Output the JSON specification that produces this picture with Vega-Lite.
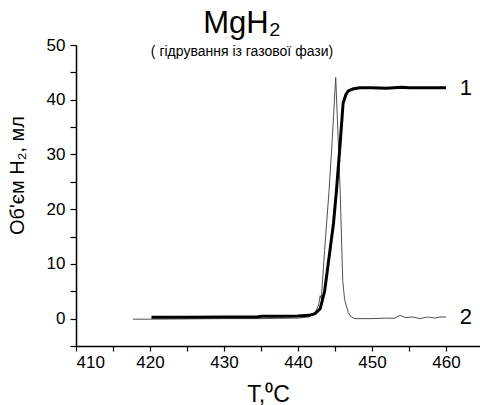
{
  "$schema": "https://vega.github.io/schema/vega-lite/v6.json",
  "autosize": {"type": "none"},
  "padding": {"left": 76, "top": 45, "right": 0, "bottom": 59},
  "width": 404,
  "height": 301,
  "background": "white",
  "config": {
    "font": "Liberation Sans",
    "view": {"stroke": null},
    "axis": {"grid": false, "domainColor": "black", "tickColor": "black", "labelColor": "black", "titleColor": "black", "labelFont": "Liberation Sans", "titleFont": "Liberation Sans", "titleFontWeight": "normal", "labelFontSize": 17, "domainWidth": 1.5, "tickWidth": 1.2}
  },
  "title": {
    "text": "MgH₂",
    "subtitle": "( гідрування із газової фази)",
    "fontSize": 31,
    "fontWeight": "normal",
    "color": "black",
    "subtitleColor": "black",
    "subtitleFontSize": 14,
    "subtitlePadding": 5,
    "anchor": "middle",
    "frame": "group",
    "dx": -36,
    "offset": -24
  },
  "datasets": {
    "curves": [
      {"T": 420.2, "V": 0.25, "s": "1"},
      {"T": 425, "V": 0.25, "s": "1"},
      {"T": 430, "V": 0.3, "s": "1"},
      {"T": 434.5, "V": 0.3, "s": "1"},
      {"T": 435, "V": 0.45, "s": "1"},
      {"T": 438, "V": 0.45, "s": "1"},
      {"T": 440, "V": 0.5, "s": "1"},
      {"T": 441.5, "V": 0.6, "s": "1"},
      {"T": 442.3, "V": 0.9, "s": "1"},
      {"T": 443.0, "V": 1.8, "s": "1"},
      {"T": 443.6, "V": 5.0, "s": "1"},
      {"T": 444.2, "V": 11.2, "s": "1"},
      {"T": 444.8, "V": 17.4, "s": "1"},
      {"T": 445.2, "V": 23.4, "s": "1"},
      {"T": 445.7, "V": 32, "s": "1"},
      {"T": 446.1, "V": 39.4, "s": "1"},
      {"T": 446.5, "V": 41.0, "s": "1"},
      {"T": 446.8, "V": 41.6, "s": "1"},
      {"T": 447.5, "V": 42.0, "s": "1"},
      {"T": 448.4, "V": 42.2, "s": "1"},
      {"T": 450, "V": 42.2, "s": "1"},
      {"T": 452, "V": 42.1, "s": "1"},
      {"T": 453, "V": 42.2, "s": "1"},
      {"T": 454, "V": 42.3, "s": "1"},
      {"T": 455, "V": 42.2, "s": "1"},
      {"T": 458, "V": 42.2, "s": "1"},
      {"T": 460, "V": 42.2, "s": "1"},
      {"T": 417.7, "V": -0.1, "s": "2"},
      {"T": 420, "V": -0.1, "s": "2"},
      {"T": 425, "V": -0.05, "s": "2"},
      {"T": 430, "V": 0, "s": "2"},
      {"T": 435, "V": 0, "s": "2"},
      {"T": 440, "V": 0.1, "s": "2"},
      {"T": 441.5, "V": 0.3, "s": "2"},
      {"T": 442.3, "V": 1.0, "s": "2"},
      {"T": 442.8, "V": 2.5, "s": "2"},
      {"T": 443.0, "V": 4.2, "s": "2"},
      {"T": 443.15, "V": 3.6, "s": "2"},
      {"T": 443.6, "V": 12.5, "s": "2"},
      {"T": 444.2, "V": 23.4, "s": "2"},
      {"T": 444.6, "V": 32, "s": "2"},
      {"T": 445.1, "V": 44.1, "s": "2"},
      {"T": 445.4, "V": 34, "s": "2"},
      {"T": 445.7, "V": 23.4, "s": "2"},
      {"T": 445.9, "V": 14, "s": "2"},
      {"T": 446.05, "V": 7, "s": "2"},
      {"T": 446.3, "V": 3.5, "s": "2"},
      {"T": 446.8, "V": 1.1, "s": "2"},
      {"T": 447.2, "V": 0.3, "s": "2"},
      {"T": 447.7, "V": 0, "s": "2"},
      {"T": 450, "V": 0, "s": "2"},
      {"T": 452, "V": 0.1, "s": "2"},
      {"T": 453, "V": 0.05, "s": "2"},
      {"T": 453.8, "V": 0.6, "s": "2"},
      {"T": 454.5, "V": 0.2, "s": "2"},
      {"T": 455.5, "V": 0.3, "s": "2"},
      {"T": 456.5, "V": 0, "s": "2"},
      {"T": 457.5, "V": 0.3, "s": "2"},
      {"T": 458.5, "V": 0.1, "s": "2"},
      {"T": 459.2, "V": 0.3, "s": "2"},
      {"T": 460, "V": 0.3, "s": "2"}
    ],
    "labels": [
      {"T": 462.7, "V": 42.1, "label": "1"},
      {"T": 462.7, "V": 0.3, "label": "2"}
    ]
  },
  "encoding": {
    "x": {
      "field": "T", "type": "quantitative",
      "scale": {"domain": [410, 464.6], "nice": false, "zero": false},
      "axis": {
        "values": [410, 415, 420, 425, 430, 435, 440, 445, 450, 455, 460],
        "labelExpr": "datum.value % 10 === 0 ? datum.label : ''",
        "title": "T,⁰C",
        "titleFontSize": 23,
        "tickSize": 5,
        "labelPadding": 3,
        "titleX": 192,
        "titleY": 55,
        "titleBaseline": "alphabetic",
        "titleAlign": "center"
      }
    },
    "y": {
      "field": "V", "type": "quantitative",
      "scale": {"domain": [-5, 50], "nice": false, "zero": false},
      "axis": {
        "values": [-5, 0, 5, 10, 15, 20, 25, 30, 35, 40, 45, 50],
        "labelExpr": "datum.value >= 0 && datum.value % 10 === 0 ? datum.label : ''",
        "title": "Об'єм H₂, мл",
        "titleFontSize": 20,
        "tickSize": 6,
        "labelPadding": 5,
        "titleX": -53,
        "titleY": 130,
        "titleAngle": -90,
        "titleBaseline": "alphabetic",
        "titleAlign": "center"
      }
    }
  },
  "layer": [
    {
      "data": {"name": "curves"},
      "transform": [{"filter": "datum.s === '2'"}],
      "mark": {"type": "line", "color": "#505050", "strokeWidth": 1, "clip": true}
    },
    {
      "data": {"name": "curves"},
      "transform": [{"filter": "datum.s === '1'"}],
      "mark": {"type": "line", "color": "black", "strokeWidth": 3, "clip": true}
    },
    {
      "data": {"name": "labels"},
      "mark": {"type": "text", "fontSize": 22, "color": "black", "align": "center", "baseline": "middle"},
      "encoding": {"text": {"field": "label"}}
    }
  ]
}
